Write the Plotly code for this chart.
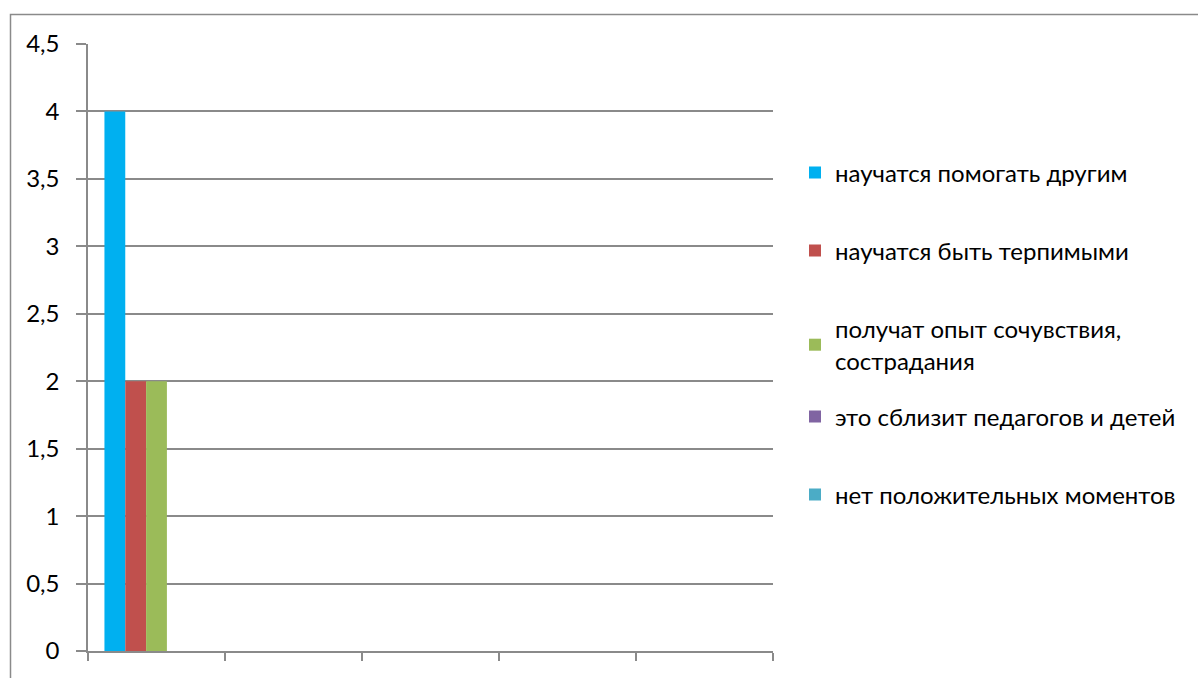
import plotly.graph_objects as go

categories = [1, 2, 3, 4, 5]
series_names = [
    "научатся помогать другим",
    "научатся быть терпимыми",
    "получат опыт сочувствия,<br>сострадания",
    "это сблизит педагогов и детей",
    "нет положительных моментов",
]
series_values = [
    [4, None, None, None, None],
    [2, None, None, None, None],
    [2, None, None, None, None],
    [0, None, None, None, None],
    [0, None, None, None, None],
]
colors = ["#00B0F0", "#C0504D", "#9BBB59", "#8064A2", "#4BACC6"]
y_ticks = [0, 0.5, 1, 1.5, 2, 2.5, 3, 3.5, 4, 4.5]
legend_centers_px = [173, 251, 345, 417, 495]

W, H = 1198, 678
L, R, T, B = 88, 773, 44, 651
pw, ph = R - L, B - T

def px_x(p):
    return (p - L) / pw

def px_y(p):
    return (B - p) / ph

font = "Lato, 'Open Sans', sans-serif"
fig = go.Figure()
legends = {}
for i, (name, vals) in enumerate(zip(series_names, series_values)):
    key = "legend" if i == 0 else f"legend{i + 1}"
    fig.add_trace(go.Bar(
        x=categories, y=vals, name=name,
        marker=dict(color=colors[i], line=dict(width=0)),
        legend=key,
    ))
    legends[key] = dict(
        x=px_x(795), y=px_y(legend_centers_px[i]),
        xanchor="left", yanchor="middle",
        font=dict(family=font, size=24, color="#000000"),
        bgcolor="rgba(0,0,0,0)", itemclick=False, itemdoubleclick=False,
    )

grid = "#8a8a8a"
fig.update_layout(
    width=W, height=H,
    margin=dict(l=L, r=W - R, t=T, b=H - B),
    paper_bgcolor="white", plot_bgcolor="white",
    barmode="group", bargap=0.24, bargroupgap=0,
    separators=", ",
    font=dict(family=font, size=24, color="#000000"),
    showlegend=True,
    **legends,
    xaxis=dict(
        range=[0.5, 5.5], tickvals=[0.5, 1.5, 2.5, 3.5, 4.5, 5.5],
        ticktext=["", "", "", "", "", ""],
        ticks="outside", ticklen=8, tickcolor=grid, tickwidth=1.5,
        showgrid=False, showline=True, linecolor=grid, linewidth=1.5,
        zeroline=False, fixedrange=True,
    ),
    yaxis=dict(
        range=[0, 4.5], tickvals=y_ticks,
        ticks="outside", ticklen=10, tickcolor=grid, tickwidth=1.5,
        showgrid=True, gridcolor=grid, gridwidth=1.5,
        showline=True, linecolor=grid, linewidth=1.5,
        zeroline=False, ticklabelstandoff=12, fixedrange=True,
        tickfont=dict(family=font, size=24, color="#000000"),
    ),
    shapes=[dict(
        type="rect", xref="paper", yref="paper",
        x0=px_x(10.5), x1=px_x(1210), y0=px_y(690), y1=px_y(14.5),
        line=dict(color="#8a8a8a", width=1.5), fillcolor="rgba(0,0,0,0)",
        layer="below",
    )],
)

fig.write_html("out.html")
